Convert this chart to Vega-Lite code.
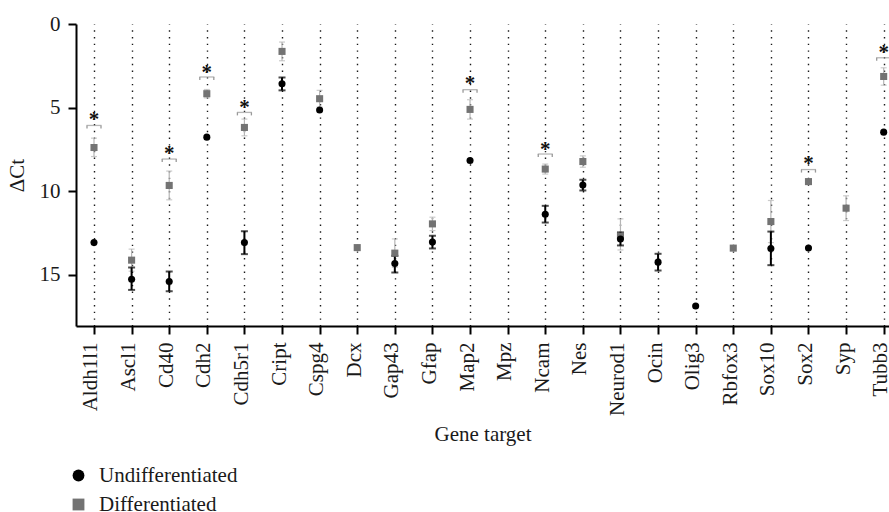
{
"$schema": "https://vega.github.io/schema/vega-lite/v6.json",
"width": 813,
"height": 302,
"autosize": {"type": "none"},
"padding": {"left": 76, "top": 24, "right": 0, "bottom": 186},
"config": {
  "view": {"stroke": null},
  "font": "Liberation Serif",
  "axis": {"labelFont": "Liberation Serif", "titleFont": "Liberation Serif", "labelColor": "#1a1a1a", "titleColor": "#1a1a1a", "titleFontWeight": "normal", "labelFontSize": 21, "titleFontSize": 21, "domainColor": "#000", "domainWidth": 2, "tickColor": "#000", "tickWidth": 2, "tickSize": 8},
  "legend": {"labelFont": "Liberation Serif", "labelFontSize": 21, "labelColor": "#1a1a1a"}
},
"datasets": {
  "pts": [
    {"gene": "Aldh1l1", "group": "Differentiated", "mean": 7.39, "lo": 6.83, "hi": 7.93},
    {"gene": "Ascl1", "group": "Differentiated", "mean": 14.13, "lo": 13.47, "hi": 14.79},
    {"gene": "Cd40", "group": "Differentiated", "mean": 9.66, "lo": 8.8, "hi": 10.52},
    {"gene": "Cdh2", "group": "Differentiated", "mean": 4.17, "lo": 3.92, "hi": 4.42},
    {"gene": "Cdh5r1", "group": "Differentiated", "mean": 6.19, "lo": 5.69, "hi": 6.69},
    {"gene": "Cript", "group": "Differentiated", "mean": 1.64, "lo": 1.08, "hi": 2.2},
    {"gene": "Cspg4", "group": "Differentiated", "mean": 4.47, "lo": 3.97, "hi": 4.97},
    {"gene": "Dcx", "group": "Differentiated", "mean": 13.38},
    {"gene": "Gap43", "group": "Differentiated", "mean": 13.71, "lo": 12.86, "hi": 14.56},
    {"gene": "Gfap", "group": "Differentiated", "mean": 11.96, "lo": 11.56, "hi": 12.36},
    {"gene": "Map2", "group": "Differentiated", "mean": 5.11, "lo": 4.53, "hi": 5.69},
    {"gene": "Ncam", "group": "Differentiated", "mean": 8.68, "lo": 8.38, "hi": 8.98},
    {"gene": "Nes", "group": "Differentiated", "mean": 8.23, "lo": 7.89, "hi": 8.57},
    {"gene": "Neurod1", "group": "Differentiated", "mean": 12.7, "lo": 11.66, "hi": 13.52},
    {"gene": "Rbfox3", "group": "Differentiated", "mean": 13.41},
    {"gene": "Sox10", "group": "Differentiated", "mean": 11.82, "lo": 10.56, "hi": 13.08},
    {"gene": "Sox2", "group": "Differentiated", "mean": 9.43},
    {"gene": "Syp", "group": "Differentiated", "mean": 11.02, "lo": 10.28, "hi": 11.76},
    {"gene": "Tubb3", "group": "Differentiated", "mean": 3.14, "lo": 2.62, "hi": 3.66},
    {"gene": "Aldh1l1", "group": "Undifferentiated", "mean": 13.08},
    {"gene": "Ascl1", "group": "Undifferentiated", "mean": 15.27, "lo": 14.57, "hi": 15.91},
    {"gene": "Cd40", "group": "Undifferentiated", "mean": 15.41, "lo": 14.81, "hi": 15.99},
    {"gene": "Cdh2", "group": "Undifferentiated", "mean": 6.77},
    {"gene": "Cdh5r1", "group": "Undifferentiated", "mean": 13.08, "lo": 12.4, "hi": 13.77},
    {"gene": "Cript", "group": "Undifferentiated", "mean": 3.57, "lo": 3.2, "hi": 3.97},
    {"gene": "Cspg4", "group": "Undifferentiated", "mean": 5.15},
    {"gene": "Gap43", "group": "Undifferentiated", "mean": 14.33, "lo": 13.87, "hi": 14.87},
    {"gene": "Gfap", "group": "Undifferentiated", "mean": 13.05, "lo": 12.67, "hi": 13.43},
    {"gene": "Map2", "group": "Undifferentiated", "mean": 8.17},
    {"gene": "Ncam", "group": "Undifferentiated", "mean": 11.38, "lo": 10.88, "hi": 11.88},
    {"gene": "Nes", "group": "Undifferentiated", "mean": 9.64, "lo": 9.32, "hi": 9.96},
    {"gene": "Neurod1", "group": "Undifferentiated", "mean": 12.86, "lo": 12.47, "hi": 13.25},
    {"gene": "Ocin", "group": "Undifferentiated", "mean": 14.25, "lo": 13.75, "hi": 14.75},
    {"gene": "Olig3", "group": "Undifferentiated", "mean": 16.87},
    {"gene": "Sox10", "group": "Undifferentiated", "mean": 13.44, "lo": 12.42, "hi": 14.43},
    {"gene": "Sox2", "group": "Undifferentiated", "mean": 13.4},
    {"gene": "Tubb3", "group": "Undifferentiated", "mean": 6.47}
  ],
  "sig": [
    {"gene": "Aldh1l1", "bracket": 6.07, "star": 5.49},
    {"gene": "Cd40", "bracket": 8.08, "star": 7.53},
    {"gene": "Cdh2", "bracket": 3.17, "star": 2.68},
    {"gene": "Cdh5r1", "bracket": 5.29, "star": 4.77},
    {"gene": "Map2", "bracket": 3.93, "star": 3.35},
    {"gene": "Ncam", "bracket": 7.78, "star": 7.27},
    {"gene": "Sox2", "bracket": 8.71, "star": 8.13},
    {"gene": "Tubb3", "bracket": 2.02, "star": 1.48}
  ]
},
"encoding": {
  "x": {"field": "gene", "type": "nominal",
    "scale": {"type": "point", "padding": 0.31, "align": 0.772, "domain": ["Aldh1l1","Ascl1","Cd40","Cdh2","Cdh5r1","Cript","Cspg4","Dcx","Gap43","Gfap","Map2","Mpz","Ncam","Nes","Neurod1","Ocin","Olig3","Rbfox3","Sox10","Sox2","Syp","Tubb3"]},
    "axis": {"title": "Gene target", "labelAngle": -90, "labelPadding": 8, "labelOffset": -3, "titlePadding": 8, "grid": true, "gridColor": "#000", "gridDash": [1.4, 5.3], "gridWidth": 1.4, "gridOpacity": 0.9}
  }
},
"layer": [
  {
    "data": {"name": "pts"},
    "transform": [{"filter": "datum.group === 'Differentiated'"}],
    "mark": {"type": "rule", "color": "#b5b5b5", "strokeWidth": 1.2},
    "encoding": {"y": {"field": "lo", "type": "quantitative", "scale": {"domain": [0, 18.07], "reverse": true, "nice": false, "zero": false}, "axis": {"title": "ΔCt", "values": [0, 5, 10, 15], "grid": false, "labelPadding": 8, "titlePadding": 12}}, "y2": {"field": "hi"}}
  },
  {
    "data": {"name": "pts"},
    "transform": [{"filter": "datum.group === 'Differentiated'"}],
    "layer": [
      {"mark": {"type": "tick", "color": "#b5b5b5", "size": 6, "thickness": 1.2}, "encoding": {"y": {"field": "lo", "type": "quantitative"}}},
      {"mark": {"type": "tick", "color": "#b5b5b5", "size": 6, "thickness": 1.2}, "encoding": {"y": {"field": "hi", "type": "quantitative"}}}
    ]
  },
  {
    "data": {"name": "pts"},
    "transform": [{"filter": "datum.group === 'Undifferentiated'"}],
    "mark": {"type": "rule", "color": "#000", "strokeWidth": 2},
    "encoding": {"y": {"field": "lo", "type": "quantitative"}, "y2": {"field": "hi"}}
  },
  {
    "data": {"name": "pts"},
    "transform": [{"filter": "datum.group === 'Undifferentiated'"}],
    "layer": [
      {"mark": {"type": "tick", "color": "#000", "size": 7, "thickness": 2}, "encoding": {"y": {"field": "lo", "type": "quantitative"}}},
      {"mark": {"type": "tick", "color": "#000", "size": 7, "thickness": 2}, "encoding": {"y": {"field": "hi", "type": "quantitative"}}}
    ]
  },
  {
    "data": {"name": "pts"},
    "mark": {"type": "point", "filled": true, "opacity": 1, "size": 50},
    "encoding": {
      "y": {"field": "mean", "type": "quantitative"},
      "shape": {"field": "group", "type": "nominal", "scale": {"domain": ["Undifferentiated", "Differentiated"], "range": ["circle", "square"]}, "legend": {"title": null, "orient": "none", "legendX": -8, "legendY": 441, "symbolSize": 140, "labelOffset": 10, "rowPadding": 7, "padding": 0, "symbolStrokeWidth": 0, "labelFont": "Liberation Serif", "labelFontSize": 21, "labelColor": "#1a1a1a", "symbolOpacity": 1}},
      "color": {"field": "group", "type": "nominal", "scale": {"domain": ["Undifferentiated", "Differentiated"], "range": ["#000000", "#737373"]}, "legend": {"title": null, "orient": "none", "legendX": -8, "legendY": 441, "symbolSize": 140, "labelOffset": 10, "rowPadding": 7, "padding": 0, "symbolStrokeWidth": 0, "labelFont": "Liberation Serif", "labelFontSize": 21, "labelColor": "#1a1a1a", "symbolOpacity": 1}}
    }
  },
  {
    "data": {"name": "sig"},
    "mark": {"type": "tick", "color": "#999", "size": 15, "thickness": 1.3},
    "encoding": {"y": {"field": "bracket", "type": "quantitative"}}
  },
  {
    "data": {"name": "sig"},
    "mark": {"type": "rule", "color": "#999", "strokeWidth": 1.3, "xOffset": -7, "y2Offset": 3},
    "encoding": {"y": {"field": "bracket", "type": "quantitative"}, "y2": {"field": "bracket"}}
  },
  {
    "data": {"name": "sig"},
    "mark": {"type": "rule", "color": "#999", "strokeWidth": 1.3, "xOffset": 7, "y2Offset": 3},
    "encoding": {"y": {"field": "bracket", "type": "quantitative"}, "y2": {"field": "bracket"}}
  },
  {
    "data": {"name": "sig"},
    "mark": {"type": "text", "text": "*", "font": "Liberation Serif", "fontSize": 21, "fontWeight": "bold", "color": "#111", "baseline": "alphabetic", "dy": 10},
    "encoding": {"y": {"field": "star", "type": "quantitative"}}
  }
]
}
